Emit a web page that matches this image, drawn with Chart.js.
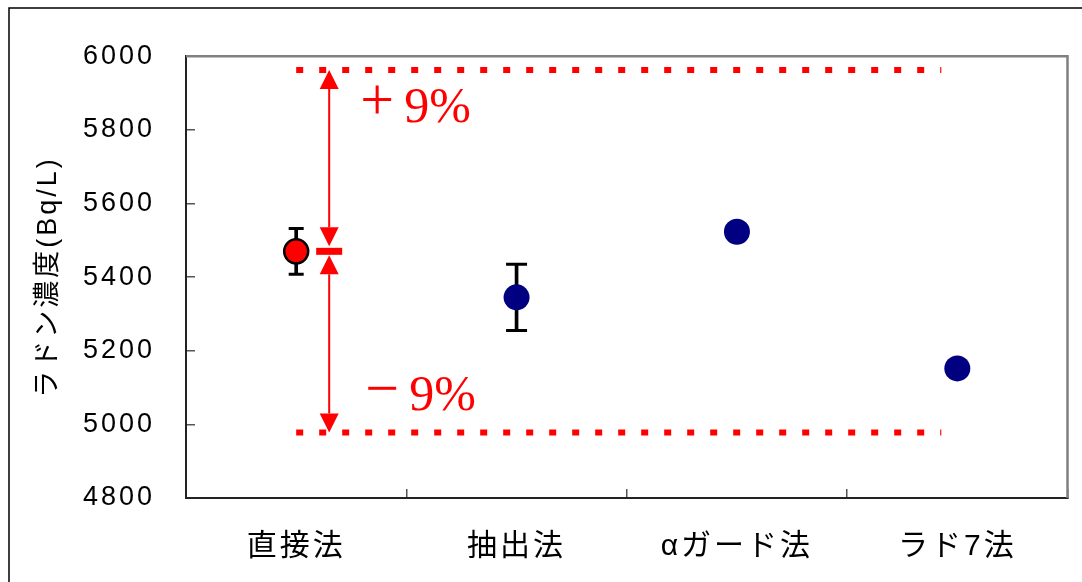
<!DOCTYPE html>
<html>
<head>
<meta charset="utf-8">
<script src="https://cdn.jsdelivr.net/npm/chart.js@4.4.1/dist/chart.umd.min.js"></script>
<style>
  html, body { margin: 0; padding: 0; background: #fff; }
  #wrap { width: 1082px; height: 582px; position: relative; }
</style>
</head>
<body>
<div id="wrap"><canvas id="radonChart"></canvas></div>
<script>
// 測定方法ごとのラドン濃度 (Bq/L)
const methods = ['直接法', '抽出法', 'αガード法', 'ラド7法'];
const means = [5470, 5345, 5523, 5152];
const errors = [62, 90, null, null];
const refIndex = 0;      // 直接法 を基準にする
const bandPct = 9;       // ±9%
const yMin = 4800;
const yMax = 6000;
const yStep = 200;

const RED = '#ff0000';
const NAVY = '#000080';
const SPACING = '3px';

const stems = errors.map((e, i) => e == null ? null : [means[i] - e, means[i] + e]);
const capsHi = errors.map((e, i) => e == null ? null : means[i] + e);
const capsLo = errors.map((e, i) => e == null ? null : means[i] - e);
const refPoint = means.map((v, i) => i === refIndex ? v : null);
const otherPoints = means.map((v, i) => i === refIndex ? null : v);

const capSize = ctx => ctx.dataIndex === refIndex ? 7.5 : 10.5;

const decor = {
    id: 'decor',
    beforeLayout(chart) {
        chart.ctx.letterSpacing = SPACING;
    },
    beforeDraw(chart) {
        const ctx = chart.ctx;
        ctx.letterSpacing = SPACING;
        ctx.save();
        ctx.strokeStyle = '#000';
        ctx.lineWidth = 1.5;
        ctx.strokeRect(9, 8, 1200, 1200);
        ctx.restore();
    },
    beforeDatasetsDraw(chart) {
        const ctx = chart.ctx;
        const a = chart.chartArea;
        ctx.save();
        ctx.strokeStyle = '#808080';
        ctx.lineWidth = 2.5;
        ctx.beginPath();
        ctx.moveTo(a.left, a.top);
        ctx.lineTo(a.right, a.top);
        ctx.lineTo(a.right, a.bottom);
        ctx.stroke();
        ctx.restore();
    },
    afterDatasetsDraw(chart) {
        const ctx = chart.ctx;
        const xs = chart.scales.x, ys = chart.scales.y;
        const ref = means[refIndex];
        const yHi = ys.getPixelForValue(ref * (1 + bandPct / 100));
        const yLo = ys.getPixelForValue(ref * (1 - bandPct / 100));
        const yMid = ys.getPixelForValue(ref);
        const x0 = xs.getPixelForValue(refIndex);
        const xEnd = xs.getPixelForValue(methods.length - 1) - 16;
        const ax = x0 + 33;
        const head = 19;

        ctx.save();
        ctx.letterSpacing = '0px';
        ctx.strokeStyle = RED;
        ctx.fillStyle = RED;

        // ±9% 点線
        ctx.lineWidth = 6;
        ctx.setLineDash([7, 16]);
        [yHi, yLo].forEach(yy => {
            ctx.beginPath();
            ctx.moveTo(x0, yy);
            ctx.lineTo(xEnd, yy);
            ctx.stroke();
        });
        ctx.setLineDash([]);

        // 矢印
        const tri = (tipY, dir) => {
            ctx.beginPath();
            ctx.moveTo(ax, tipY);
            ctx.lineTo(ax - head / 2, tipY + dir * head);
            ctx.lineTo(ax + head / 2, tipY + dir * head);
            ctx.closePath();
            ctx.fill();
        };
        ctx.lineWidth = 2;
        ctx.beginPath();
        ctx.moveTo(ax, yHi + head);
        ctx.lineTo(ax, yMid - 5 - head);
        ctx.moveTo(ax, yMid + 4 + head);
        ctx.lineTo(ax, yLo - head);
        ctx.stroke();
        tri(yHi, 1);
        tri(yMid - 5, -1);
        tri(yMid + 4, 1);
        tri(yLo, -1);
        ctx.fillRect(ax - 13, yMid - 3.5, 26, 7);

        // ラベル
        ctx.textBaseline = 'alphabetic';
        ctx.textAlign = 'left';
        ctx.font = '60px "Liberation Serif"';
        ctx.fillText('+', ax + 31, yHi + 49);
        ctx.fillText('\u2212', ax + 36, yLo - 25);
        ctx.font = '50px "Liberation Serif"';
        ctx.fillText(bandPct + '%', ax + 75, yHi + 52);
        ctx.fillText(bandPct + '%', ax + 80, yLo - 23);
        ctx.restore();
    }
};

const cjkFamily = '"Liberation Sans", "Noto Sans CJK JP", sans-serif';

new Chart(document.getElementById('radonChart'), {
    data: {
        labels: methods,
        datasets: [
            {
                type: 'line', data: refPoint, showLine: false, order: 0,
                pointRadius: 12, pointHoverRadius: 12,
                pointBackgroundColor: RED, pointBorderColor: '#000', pointBorderWidth: 2.5
            },
            {
                type: 'line', data: otherPoints, showLine: false, order: 0,
                pointRadius: 13, pointHoverRadius: 13,
                pointBackgroundColor: NAVY, pointBorderColor: NAVY, pointBorderWidth: 0
            },
            {
                type: 'line', data: capsHi, showLine: false, order: 1,
                pointStyle: 'line', pointRadius: capSize, pointBorderColor: '#000', pointBorderWidth: 3
            },
            {
                type: 'line', data: capsLo, showLine: false, order: 1,
                pointStyle: 'line', pointRadius: capSize, pointBorderColor: '#000', pointBorderWidth: 3
            },
            {
                type: 'bar', data: stems, order: 2,
                backgroundColor: '#000', barThickness: 3, borderWidth: 0
            }
        ]
    },
    options: {
        responsive: true,
        maintainAspectRatio: false,
        animation: false,
        events: [],
        layout: { padding: { left: 0, right: 10, top: 52, bottom: 0 } },
        plugins: { legend: { display: false }, tooltip: { enabled: false } },
        scales: {
            x: {
                type: 'category',
                offset: true,
                grid: { offset: true, drawOnChartArea: false, drawTicks: true, tickLength: -9, color: '#555', lineWidth: 1.5 },
                border: { color: '#222', width: 2 },
                ticks: { font: { family: cjkFamily, size: 30 }, color: '#000', padding: 40, maxRotation: 0, autoSkip: false },
                afterFit: s => { s.height = 84; }
            },
            y: {
                min: yMin, max: yMax,
                grid: { drawOnChartArea: false, drawTicks: true, tickLength: -9, color: '#555', lineWidth: 1.5 },
                border: { color: '#222', width: 2 },
                ticks: {
                    stepSize: yStep,
                    font: { family: '"Liberation Sans", sans-serif', size: 27 },
                    color: '#000',
                    padding: 40,
                    callback: v => String(v)
                },
                title: {
                    display: true,
                    text: 'ラドン濃度(Bq/L)',
                    font: { family: cjkFamily, size: 27 },
                    color: '#000',
                    padding: { top: 32, bottom: 0 }
                },
                afterFit: s => { s.width = 186; }
            }
        }
    },
    plugins: [decor]
});
</script>
</body>
</html>
